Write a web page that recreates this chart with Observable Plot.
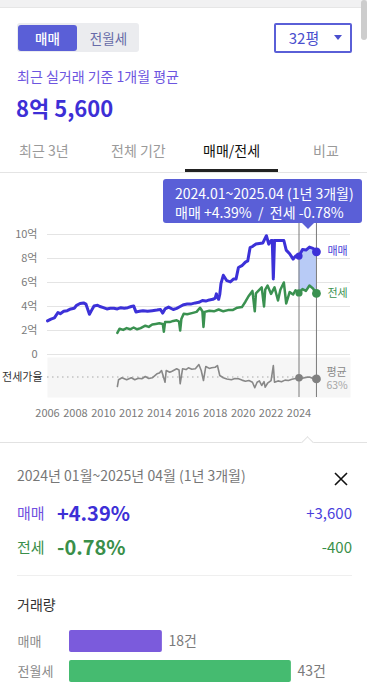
<!DOCTYPE html>
<html><head><meta charset="utf-8">
<script src="https://cdn.jsdelivr.net/npm/d3@7"></script>
<script src="https://cdn.jsdelivr.net/npm/@observablehq/plot@0.6"></script>
<style>
body{margin:0;background:#fff;font-family:"Noto Sans CJK KR","Noto Sans",sans-serif;}
#root{position:relative;width:367px;height:691px;overflow:hidden;background:#fff;}
.a{position:absolute;white-space:nowrap;}
svg{overflow:visible;}
</style></head><body><div id="root"></div>
<script>
// ---------- data ----------
const saleSeries = [
 ["2006.01",2.80],["2006.04",2.95],["2006.07",3.05],["2006.10",3.50],["2006.12",3.40],
 ["2007.03",3.60],["2007.06",3.65],["2007.09",3.80],["2007.12",3.85],
 ["2008.02",4.10],["2008.05",4.25],["2008.08",4.30],["2008.10",4.20],
 ["2009.01",3.35],["2009.03",3.70],["2009.05",4.05],["2009.08",4.10],["2009.10",4.00],
 ["2010.01",3.90],["2010.04",3.80],["2010.07",3.85],["2010.10",3.85],
 ["2011.01",3.80],["2011.04",3.90],["2011.07",3.85],["2011.10",3.90],
 ["2012.01",4.00],["2012.03",4.05],["2012.05",3.55],["2012.08",3.60],["2012.11",3.65],
 ["2013.03",3.60],["2013.07",3.65],["2013.11",3.70],
 ["2014.02",3.75],["2014.04",3.45],["2014.06",3.80],["2014.09",3.95],
 ["2015.01",3.75],["2015.04",3.85],["2015.07",4.00],["2015.10",4.15],
 ["2016.01",4.20],["2016.04",4.20],["2016.08",4.30],["2016.11",4.35],
 ["2017.02",4.50],["2017.05",4.45],["2017.08",4.55],["2017.11",4.60],
 ["2018.01",4.70],["2018.02",5.05],["2018.04",4.60],["2018.05",5.00],["2018.06",5.90],["2018.08",6.60],["2018.11",6.15],
 ["2019.02",6.05],["2019.05",6.30],["2019.07",6.30],["2019.09",7.25],["2019.12",7.40],
 ["2020.03",7.70],["2020.05",7.80],["2020.07",8.90],["2020.09",9.00],["2020.12",9.20],
 ["2021.03",9.25],["2021.06",9.30],["2021.09",9.90],["2021.11",9.20],
 ["2022.01",9.50],["2022.02",9.50],["2022.03",6.30],["2022.04",9.50],["2022.08",9.50],["2022.12",9.50],
 ["2023.02",8.70],["2023.05",8.40],["2023.08",7.95],["2023.10",8.20],
 ["2024.01",8.20],["2024.04",8.75],["2024.07",8.70],["2024.10",8.95],["2025.01",8.85],["2025.04",8.56]
];
const jeonseSeries = [
 ["2011.01",1.80],["2011.03",2.15],["2011.06",2.05],["2011.09",2.20],["2011.12",2.10],
 ["2012.03",2.25],["2012.06",2.10],["2012.09",2.20],
 ["2013.01",2.40],["2013.04",2.30],["2013.07",2.50],["2013.10",2.55],
 ["2014.01",2.60],["2014.04",2.55],["2014.05",1.90],["2014.06",2.70],["2014.10",2.70],
 ["2015.01",2.80],["2015.04",2.85],["2015.06",2.75],["2015.07",2.00],["2015.08",2.95],["2015.10",3.40],
 ["2016.01",3.35],["2016.05",3.45],["2016.09",3.55],["2016.12",3.90],
 ["2017.02",3.60],["2017.03",2.30],["2017.04",3.55],["2017.08",3.65],["2017.12",3.60],
 ["2018.04",3.75],["2018.08",3.60],["2018.12",3.70],
 ["2019.04",3.70],["2019.08",3.90],["2019.12",3.95],
 ["2020.03",4.40],["2020.06",4.90],["2020.09",5.30],["2020.11",3.60],["2020.12",5.10],
 ["2021.02",5.30],["2021.05",5.60],["2021.07",4.00],["2021.08",5.40],["2021.10",5.75],
 ["2022.01",5.05],["2022.04",5.60],["2022.07",4.50],["2022.09",5.40],["2022.12",6.00],
 ["2023.02",4.25],["2023.05",5.20],["2023.08",5.00],["2023.10",5.35],
 ["2024.01",5.13],["2024.04",5.45],["2024.07",5.30],["2024.10",5.75],["2025.01",5.50],["2025.04",5.09]
];
const ratioSeries = [
 ["2011.01",50.8],["2011.02",59.4],["2011.05",62.0],["2011.09",59.4],
 ["2012.01",62.0],["2012.04",59.5],["2012.07",61.5],["2012.10",60.7],
 ["2013.01",63.6],["2013.04",61.0],["2013.07",62.0],["2013.11",67.1],
 ["2014.01",68.0],["2014.03",71.3],["2014.06",56.3],["2014.07",71.3],["2014.10",69.0],["2014.12",70.4],
 ["2015.04",73.5],["2015.06",72.0],["2015.07",54.3],["2015.09",73.5],["2015.12",72.5],
 ["2016.02",74.8],["2016.05",73.0],["2016.08",73.5],["2016.11",79.0],
 ["2017.01",71.3],["2017.03",58.5],["2017.05",76.5],["2017.08",74.0],["2017.10",74.8],
 ["2018.01",75.5],["2018.03",77.7],["2018.05",64.9],["2018.08",62.0],["2018.11",60.5],
 ["2019.03",59.4],["2019.06",61.0],["2019.09",60.7],["2019.12",59.0],
 ["2020.03",57.6],["2020.06",58.5],["2020.09",56.3],["2020.11",49.2],
 ["2021.01",56.3],["2021.03",58.0],["2021.05",52.1],["2021.07",57.0],["2021.08",49.9],["2021.10",55.0],
 ["2022.01",58.5],["2022.03",77.7],["2022.04",56.3],["2022.07",58.0],["2022.10",57.0],
 ["2023.01",59.0],["2023.04",58.5],["2023.07",60.0],["2023.10",61.0],
 ["2024.01",62.0],["2024.04",61.5],["2024.07",62.5],["2024.10",63.0],["2025.01",61.0],["2025.04",60.5]
];
const avgRatio = 63;
const yearTicks = [2006,2008,2010,2012,2014,2016,2018,2020,2022,2024];
const priceTicks = [0,2,4,6,8,10];
const rangeStart = "2024.01", rangeEnd = "2025.04";
const volumeCategories = ["매매","전월세"];
const volumeValues = [18,43];

// ---------- helpers ----------
const FONT = '"Noto Sans CJK KR","Noto Sans",sans-serif';
const W = 367;
const pm = s => { const [y,m] = s.split(".").map(Number); return new Date(Date.UTC(y, m-1, 1)); };
const toRows = arr => arr.map(([m,v]) => ({date: pm(m), month: m, value: v}));
const sale = toRows(saleSeries), jeonse = toRows(jeonseSeries), ratio = toRows(ratioSeries);
const startDate = pm(rangeStart), endDate = pm(rangeEnd);
const xDomain = [new Date(Date.UTC(yearTicks[0],0,1)), new Date(Date.UTC(yearTicks[yearTicks.length-1],0,1))];
const xOpt = {type:"utc", domain:xDomain, range:[47, 298.5]};
const inRange = r => r.date >= startDate && r.date <= endDate;
const jMap = new Map(jeonse.map(r => [r.month, r.value]));
const highlight = sale.filter(inRange).filter(r => jMap.has(r.month)).map(r => ({date:r.date, sale:r.value, jeonse:jMap.get(r.month)}));
const ends = arr => [arr.find(r => r.month===rangeStart), arr.find(r => r.month===rangeEnd)];

const SALE = "#3c31d8", GREEN = "#3a9150", GRAY = "#888";
const root = document.getElementById("root");
function el(html, css){ const d=document.createElement("div"); d.className="a"; d.style.cssText=css; d.innerHTML=html; root.appendChild(d); return d; }
function place(node, left, top){ const d=el("", `left:${left}px;top:${top}px;`); d.appendChild(node); }

// ---------- UI chrome ----------
el("", "left:0;top:0;width:367px;height:7px;background:#f1f1f2;border-bottom:1px solid #e6e6e6;");
el("", "left:361px;top:0;width:6px;height:40px;background:#cdcdcd;border-radius:3px;");
el("", "left:17px;top:23px;width:122px;height:29px;background:#ebecef;border-radius:3px;");
el("매매", "left:18px;top:25px;width:59px;height:26px;line-height:26px;text-align:center;background:#5a5fd7;color:#fff;border-radius:3px;font-size:13.5px;font-weight:500;");
el("전월세", "left:80px;top:25px;width:57px;height:26px;line-height:26px;text-align:center;color:#676ba8;font-size:13.5px;");
el("32평", "left:274px;top:23px;width:74px;height:26px;border:2px solid #5a5fd7;border-radius:2px;line-height:26px;color:#4a4fce;font-size:15px;padding-left:0;text-indent:-18px;text-align:center;");
el("", "left:334px;top:35px;width:0;height:0;border-left:4.5px solid transparent;border-right:4.5px solid transparent;border-top:5px solid #4a4fce;");
el("최근 실거래 기준 1개월 평균", "left:17px;top:66px;font-size:14px;line-height:20px;color:#6d55e0;");
el("8억 5,600", "left:16px;top:92px;font-size:22px;line-height:30px;font-weight:700;color:#3d2fd6;");
el("최근 3년", "left:19px;top:140px;font-size:14px;line-height:20px;color:#9a9a9a;");
el("전체 기간", "left:111px;top:140px;font-size:14px;line-height:20px;color:#9a9a9a;");
el("매매/전세", "left:203px;top:140px;font-size:14px;line-height:20px;color:#111;");
el("비교", "left:313px;top:140px;font-size:14px;line-height:20px;color:#9a9a9a;");
el("", "left:0;top:172px;width:367px;height:1px;background:#e4e4e4;");
el("", "left:185px;top:169px;width:93px;height:3px;background:#222;");

// ---------- price chart ----------
const fmtPrice = d => d===0 ? "0" : d + "억";
const priceChart = Plot.plot({
  width: W, height: 182, marginLeft: 47, marginRight: 17, marginTop: 48, marginBottom: 0,
  style: {fontFamily: FONT, background: "transparent", overflow: "visible"},
  x: {...xOpt, axis: null},
  y: {domain: [0, 10], range: [179, 59], axis: null},
  marks: [
    Plot.gridY(priceTicks, {stroke: "#e4e4e4", strokeOpacity: 1}),
    Plot.axisY(priceTicks, {tickSize: 0, tickPadding: 10, tickFormat: fmtPrice, fill: "#7a7a7a", fontSize: 11}),
    Plot.areaY(highlight, {x: "date", y1: "jeonse", y2: "sale", fill: "#b8cbf6"}),
    Plot.ruleX([startDate, endDate], {stroke: "#7a7a7a", strokeWidth: 1}),
    Plot.lineY(jeonse, {x: "date", y: "value", stroke: GREEN, strokeWidth: 2.5, strokeLinejoin: "round"}),
    Plot.lineY(sale, {x: "date", y: "value", stroke: SALE, strokeWidth: 3, strokeLinejoin: "round"}),
    Plot.dot([ends(sale)[0]], {x: "date", y: "value", r: 3.6, fill: SALE}),
    Plot.dot([ends(sale)[1]], {x: "date", y: "value", r: 4.4, fill: SALE}),
    Plot.dot([ends(jeonse)[0]], {x: "date", y: "value", r: 3.6, fill: GREEN}),
    Plot.dot([ends(jeonse)[1]], {x: "date", y: "value", r: 4.4, fill: GREEN}),
    Plot.text([ends(sale)[1]], {x: "date", y: "value", text: () => "매매", dx: 11, textAnchor: "start", fill: "#4a41d8", fontSize: 11}),
    Plot.text([ends(jeonse)[1]], {x: "date", y: "value", text: () => "전세", dx: 11, textAnchor: "start", fill: GREEN, fontSize: 11})
  ]
});
place(priceChart, 0, 175);

// ---------- ratio chart ----------
const ratioChart = Plot.plot({
  width: W, height: 73, marginLeft: 47, marginRight: 17, marginTop: 0, marginBottom: 33,
  style: {fontFamily: FONT, background: "transparent", overflow: "visible"},
  x: {...xOpt, axis: null},
  y: {domain: [38, 88], range: [39, 0], axis: null},
  marks: [
    Plot.frame({fill: "#f6f6f6", stroke: null}),
    Plot.ruleY([{y: avgRatio, x1: xDomain[0], x2: endDate}], {y: "y", x1: "x1", x2: "x2", stroke: "#a8a8a8", strokeDasharray: "1.5,3.5", strokeWidth: 1.2}),
    Plot.ruleX([startDate, endDate], {stroke: "#7a7a7a", strokeWidth: 1}),
    Plot.lineY(ratio, {x: "date", y: "value", stroke: GRAY, strokeWidth: 1.6, strokeLinejoin: "round"}),
    Plot.dot([ends(ratio)[0]], {x: "date", y: "value", r: 3.8, fill: "#808080"}),
    Plot.dot([ends(ratio)[1]], {x: "date", y: "value", r: 4.4, fill: "#808080"}),
    Plot.text([{x: xDomain[0], y: avgRatio}], {x: "x", y: "y", text: () => "전세가율", dx: -5, textAnchor: "end", fill: "#333", fontSize: 11}),
    Plot.text([ends(ratio)[1]], {x: "date", y: () => avgRatio, text: () => "평균", dx: 10, dy: -5, textAnchor: "start", fill: "#8a8a8a", fontSize: 11}),
    Plot.text([ends(ratio)[1]], {x: "date", y: () => avgRatio, text: () => avgRatio + "%", dx: 10, dy: 9, textAnchor: "start", fill: "#a5a5a5", fontSize: 10.5}),
    Plot.axisX(yearTicks.map(y => new Date(Date.UTC(y,0,1))), {tickSize: 0, tickPadding: 12, tickFormat: d => String(d.getUTCFullYear()), fill: "#7a7a7a", fontSize: 11})
  ]
});
place(ratioChart, 0, 357);

// ---------- tooltip ----------
el(`<div style="line-height:19px">2024.01~2025.04 (1년 3개월)</div><div style="line-height:19px">매매 +4.39% &nbsp;/&nbsp; 전세 -0.78%</div>`,
   "left:163px;top:179px;width:187px;height:39px;padding:5px 0 0 12px;background:#5a5fd7;color:#fff;border-radius:3px;font-size:14px;");
el("", "left:302px;top:223px;width:0;height:0;border-left:6px solid transparent;border-right:6px solid transparent;border-top:6px solid #5a5fd7;");

// ---------- details ----------
el("", "left:0;top:442px;width:367px;height:1px;background:#e2e2e2;");
el("", "left:303px;top:438px;width:8px;height:8px;background:#fff;border-top:1px solid #e2e2e2;border-left:1px solid #e2e2e2;transform:rotate(45deg);");
el("2024년 01월~2025년 04월 (1년 3개월)", "left:17px;top:465px;font-size:14px;line-height:20px;color:#777;");
el(`<svg width="14" height="14" viewBox="0 0 14 14"><path d="M1 1L13 13M13 1L1 13" stroke="#111" stroke-width="1.6"/></svg>`, "left:334px;top:467px;");
el("매매", "left:17px;top:502px;font-size:15px;line-height:22px;color:#7050e0;");
el("+4.39%", "left:57px;top:499px;font-size:20px;line-height:28px;font-weight:700;color:#3d2fd6;");
el("+3,600", "right:15px;top:502px;font-size:15px;line-height:22px;color:#4a3fdc;");
el("전세", "left:17px;top:536px;font-size:15px;line-height:22px;color:#3a8f4a;");
el("-0.78%", "left:57px;top:533px;font-size:20px;line-height:28px;font-weight:700;color:#3a8f4a;");
el("-400", "right:15px;top:536px;font-size:15px;line-height:22px;color:#3a8f4a;");
el("", "left:17px;top:575px;width:335px;height:1px;background:#efefef;");
el("거래량", "left:17px;top:594px;font-size:14px;line-height:20px;color:#333;");

// ---------- volume bars ----------
const volData = volumeCategories.map((c,i) => ({cat: c, count: volumeValues[i]}));
const volumeChart = Plot.plot({
  width: W, height: 70, marginLeft: 69, marginRight: 0, marginTop: 0, marginBottom: 0,
  style: {fontFamily: FONT, background: "transparent", overflow: "visible"},
  x: {domain: [0, 50], range: [69, 69 + 5.16*50], axis: null},
  y: {domain: volumeCategories, range: [6, 66], padding: 0, axis: null},
  color: {domain: volumeCategories, range: ["#7b5bdc", "#45bb70"]},
  marks: [
    Plot.barX(volData, {x: "count", y: "cat", fill: "cat", insetTop: 4, insetBottom: 4, rx: 2}),
    Plot.text(volData, {y: "cat", text: "cat", frameAnchor: "left", dx: -52, textAnchor: "start", fill: "#8a8a8a", fontSize: 13}),
    Plot.text(volData, {x: "count", y: "cat", text: d => d.count + "건", dx: 6, textAnchor: "start", fill: "#7a7a7a", fontSize: 14})
  ]
});
place(volumeChart, 0, 620);
</script></body></html>
